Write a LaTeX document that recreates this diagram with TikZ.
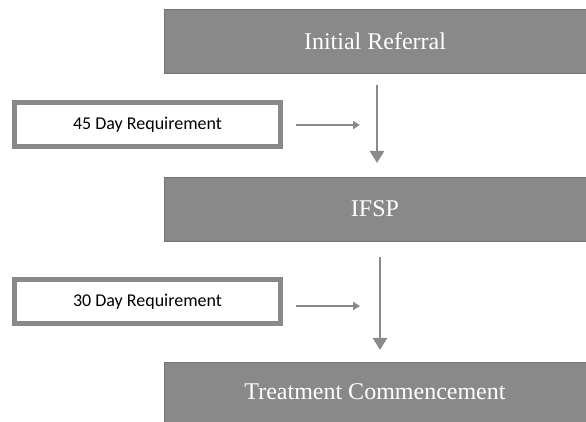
\documentclass[tikz,border=0pt]{standalone}
\usepackage{fontspec}
\setmainfont{Liberation Serif}
\newfontfamily\calib{Carlito}
\usetikzlibrary{arrows.meta}
\definecolor{boxgray}{HTML}{898989}
\definecolor{edgegray}{HTML}{747474}
\definecolor{arrowgray}{HTML}{8A8A8A}
\tikzset{
  mainbox/.style={draw=edgegray, line width=0.8pt, fill=boxgray, text=white, inner sep=0pt,
    minimum width=422pt, font=\fontsize{24}{28}\selectfont},
  reqbox/.style={draw=boxgray, line width=5pt, fill=white, inner sep=0pt,
    minimum width=266pt, minimum height=44pt, font=\calib\fontsize{18}{22}\selectfont},
  bigarrow/.style={draw=arrowgray, line width=2.5pt, -{Triangle[width=14pt,length=12pt]}},
  smallarrow/.style={draw=arrowgray, line width=2pt, -{Triangle[width=8pt,length=7pt]}}
}
\begin{document}
\begin{tikzpicture}[x=1pt,y=1pt]
\useasboundingbox (0,0) rectangle (586,422);
\node[mainbox, minimum height=64pt] (ref) at (375,381) {Initial Referral};
\node[mainbox, minimum height=64pt] (ifsp) at (375,213) {IFSP};
\node[mainbox, minimum height=60pt] (treat) at (375,30) {\raisebox{-5pt}{Treatment Commencement}};
\node[reqbox] (r45) at (147.5,297.5) {45 Day Requirement};
\node[reqbox] (r30) at (147.5,120.5) {30 Day Requirement};
\coordinate (a1s) at (377,337);
\coordinate (a1e) at (377,259);
\coordinate (a2s) at (380,165);
\coordinate (a2e) at (380,72);
\coordinate (h1s) at (296,297);
\coordinate (h1e) at (360,297);
\coordinate (h2s) at (296,116);
\coordinate (h2e) at (360,116);
\draw[bigarrow] (a1s) -- (a1e);
\draw[bigarrow] (a2s) -- (a2e);
\draw[smallarrow] (h1s) -- (h1e);
\draw[smallarrow] (h2s) -- (h2e);
\end{tikzpicture}
\end{document}
